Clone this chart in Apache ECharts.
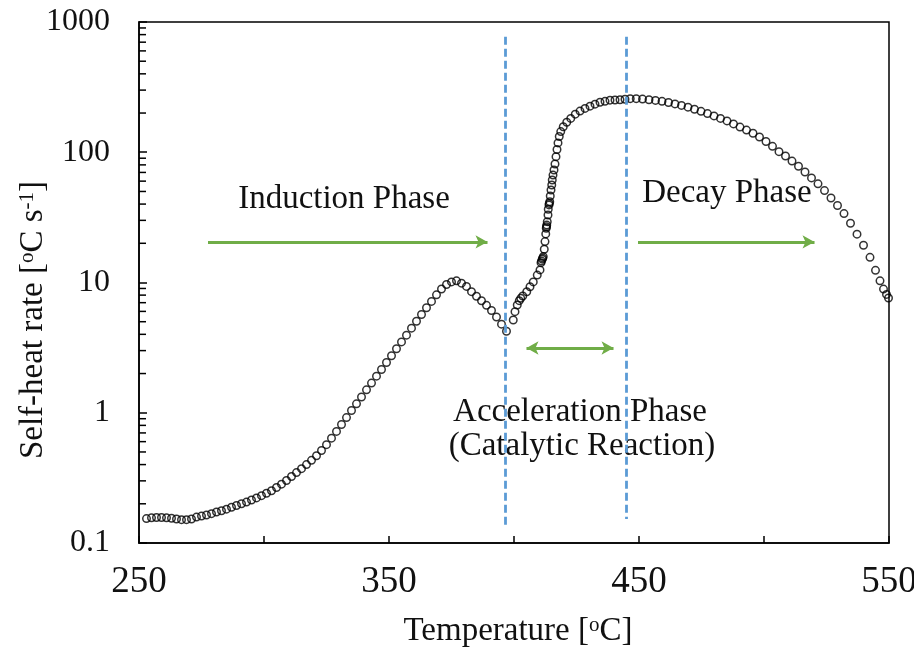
<!DOCTYPE html>
<html>
<head>
<meta charset="utf-8">
<script src="https://cdn.jsdelivr.net/npm/echarts@6/dist/echarts.min.js"></script>
<style>
  html, body { margin: 0; padding: 0; background: #fff; }
  #chart { width: 914px; height: 651px; }
</style>
</head>
<body>
<div id="chart"></div>
<script>
// Self-heat rate record: temperature [°C] and rate [°C/s]
const tempInduction = [253, 255, 257, 259, 261, 263, 265, 267, 269, 271, 273, 275, 277, 279, 281, 283, 285, 287, 289, 291,
  293, 295, 297, 299, 301, 303, 305, 307, 309, 311, 313, 315, 317, 319, 321, 323, 325, 327, 329, 331,
  333, 335, 337, 339, 341, 343, 345, 347, 349, 351, 353, 355, 357, 359, 361, 363, 365, 367, 369, 371,
  373, 375, 377, 379, 381, 383, 385, 387, 389, 391, 393, 395, 397];
const rateInduction = [0.154, 0.156, 0.157, 0.157, 0.156, 0.155, 0.153, 0.151, 0.151, 0.153, 0.158, 0.161, 0.164, 0.168, 0.173, 0.177, 0.182, 0.188, 0.194, 0.200,
  0.206, 0.214, 0.222, 0.231, 0.241, 0.252, 0.267, 0.283, 0.302, 0.324, 0.347, 0.372, 0.400, 0.431, 0.468, 0.513, 0.569, 0.638, 0.719, 0.813,
  0.918, 1.04, 1.17, 1.32, 1.50, 1.69, 1.91, 2.15, 2.43, 2.74, 3.10, 3.50, 3.94, 4.46, 5.04, 5.68, 6.40, 7.16, 8.04, 8.91,
  9.66, 10.1, 10.3, 9.89, 9.33, 8.51, 7.85, 7.24, 6.68, 6.10, 5.43, 4.79, 4.22];

const tempAcceleration = [399.7, 400.4, 401.3, 402.1, 402.7, 403.5, 405.1, 406.4, 407.7, 409.3, 410.4, 410.8, 411.0, 411.3, 411.5, 411.7,
  412.1, 412.4, 412.7, 412.9, 413.0, 413.1, 413.3, 413.6, 413.7, 414.0, 414.1, 414.3, 414.5, 414.8, 415.1, 415.3, 415.6, 416.0,
  416.4, 416.8, 417.2, 417.6, 418.1, 418.7, 419.7, 421.1, 422.7, 424.5, 426.4, 428.4, 430.4, 432.4, 434.4, 436.4, 438.4, 440.4, 442.4];
const rateAcceleration = [5.15, 5.97, 6.72, 7.25, 7.56, 7.87, 8.49, 9.28, 10.1, 11.4, 12.5, 14.2, 14.6, 15.1, 15.4, 15.8,
  18.0, 20.6, 23.6, 26.1, 26.8, 27.6, 29.3, 33.0, 36.5, 39.4, 40.5, 41.7, 46.1, 51.3, 56.1, 61.2, 66.8, 73.1,
  81.3, 92.5, 105, 118, 132, 144, 157, 170, 182, 196, 207, 217, 226, 234, 242, 246, 251, 252, 253];

const tempDecay = [444.4, 446.5, 448.9, 451.4, 454.0, 456.6, 459.2, 461.8, 464.4, 467.0, 469.6, 472.2, 474.8, 477.4, 480.0, 482.6,
  485.2, 487.8, 490.4, 493.0, 495.6, 498.2, 500.8, 503.4, 506.0, 508.6, 511.2, 513.8, 516.4, 519.0, 521.6, 524.2,
  526.8, 529.4, 532.0, 534.6, 537.2, 539.8, 542.4, 544.6, 546.4, 547.8, 549.0, 549.8];
const rateDecay = [255, 258, 258, 256, 253, 250, 246, 241, 235, 229, 222, 214, 206, 198, 190, 182,
  174, 165, 156, 148, 140, 131, 121, 111, 101, 93.5, 85.5, 78, 70.5, 63.5, 57.2, 50.8,
  44.5, 39.0, 33.8, 28.5, 23.5, 19.3, 15.6, 12.4, 10.3, 8.9, 8.1, 7.6];

// Axis ticks
const xLabelled = [250, 350, 450, 550];
const yDecades = [0.1, 1, 10, 100, 1000];
const yMinorTicks = [0.2, 0.3, 0.4, 0.5, 0.6, 0.7, 0.8, 0.9, 2, 3, 4, 5, 6, 7, 8, 9,
  20, 30, 40, 50, 60, 70, 80, 90, 200, 300, 400, 500, 600, 700, 800, 900];

// Phase boundaries and arrows (data coordinates)
const phaseBoundaryTemp = [396.4, 444.8];
const phaseBoundaryTop = [770, 770];
const phaseBoundaryBottom = [0.133, 0.153];
const inductionArrow = [[277.6, 20.5], [389.4, 20.5]];
const decayArrow = [[449.6, 20.5], [520.2, 20.5]];
const accelerationArrow = [[405.0, 3.14], [439.8, 3.14]];

const FONT = "'Liberation Serif', 'Times New Roman', serif";
const INK = '#111';
const GREEN = '#70AD47';
const BLUE = '#5B9BD5';

const points = [];
[[tempInduction, rateInduction], [tempAcceleration, rateAcceleration], [tempDecay, rateDecay]].forEach(([t, r]) => {
  t.forEach((v, i) => points.push([v, r[i]]));
});

const chart = echarts.init(document.getElementById('chart'), null, { renderer: 'canvas' });

const greenStyle = { color: GREEN, width: 3, type: 'solid' };
const blueStyle = { color: BLUE, width: 2.8, type: [8, 4] };
const arrowLine = (pair, both) => [
  { coord: pair[0], symbol: both ? 'arrow' : 'none', symbolSize: [10, 12], lineStyle: greenStyle },
  { coord: pair[1], symbol: 'arrow', symbolSize: [10, 12] }
];
const boundaryLine = i => [
  { coord: [phaseBoundaryTemp[i], phaseBoundaryTop[i]], symbol: 'none', lineStyle: blueStyle },
  { coord: [phaseBoundaryTemp[i], phaseBoundaryBottom[i]], symbol: 'none' }
];
const txt = (x, y, text) => ({
  type: 'text', x, y,
  style: { text, font: '33px ' + FONT, fill: INK, align: 'center', verticalAlign: 'middle' }
});

chart.setOption({
  animation: false,
  backgroundColor: '#fff',
  grid: {
    left: 139, right: 25, top: 22, bottom: 108,
    containLabel: false, outerBoundsMode: 'none',
    show: true, borderColor: '#000', borderWidth: 1.5, backgroundColor: 'transparent'
  },
  xAxis: {
    type: 'value', min: 250, max: 550, interval: 50,
    axisLine: { show: true, lineStyle: { color: '#000', width: 1.5 } },
    axisTick: { show: true, inside: true, length: 7, lineStyle: { color: '#000', width: 1.5 } },
    splitLine: { show: false },
    axisLabel: {
      margin: 21, color: INK, fontFamily: FONT, fontSize: 37,
      showMinLabel: true, showMaxLabel: true, hideOverlap: false,
      formatter: v => (xLabelled.indexOf(v) >= 0 ? String(v) : '')
    }
  },
  yAxis: {
    type: 'log', logBase: 10, min: yDecades[0], max: yDecades[yDecades.length - 1],
    axisLine: { show: true, lineStyle: { color: '#000', width: 1.5 } },
    axisTick: { show: true, inside: true, length: 8, lineStyle: { color: '#000', width: 1.5 } },
    splitLine: { show: false },
    axisLabel: {
      margin: 29, color: INK, fontFamily: FONT, fontSize: 32,
      formatter: v => String(+v.toPrecision(3))
    }
  },
  series: [
    {
      // minor log ticks along the left axis
      type: 'custom',
      silent: true,
      data: yMinorTicks.map(v => [250, v]),
      renderItem: (params, api) => {
        const p = api.coord([api.value(0), api.value(1)]);
        return {
          type: 'line',
          shape: { x1: p[0], y1: p[1], x2: p[0] + 7, y2: p[1] },
          style: { stroke: '#000', lineWidth: 1.5 }
        };
      },
      z: 3
    },
    {
      type: 'scatter',
      data: points,
      symbol: 'circle',
      symbolSize: 7.5,
      itemStyle: { color: 'rgba(0,0,0,0)', borderColor: '#000', borderWidth: 1.5 },
      z: 4
    },
    {
      // phase boundaries and phase arrows
      type: 'scatter',
      data: [],
      silent: true,
      markLine: {
        silent: true,
        animation: false,
        label: { show: false },
        emphasis: { disabled: true },
        data: [
          boundaryLine(0),
          boundaryLine(1),
          arrowLine(inductionArrow, false),
          arrowLine(decayArrow, false),
          arrowLine(accelerationArrow, true)
        ]
      },
      z: 2
    }
  ],
  graphic: [
    {
      type: 'text', x: 33, y: 320, rotation: Math.PI / 2,
      style: {
        text: 'Self-heat rate [{sup|o}C s{sup|-1}]',
        font: '33px ' + FONT, fill: INK, align: 'center', verticalAlign: 'middle',
        rich: { sup: { fontSize: 21, fontFamily: FONT, fill: INK, verticalAlign: 'top' } }
      }
    },
    {
      type: 'text', x: 518, y: 631,
      style: {
        text: 'Temperature [{sup|o}C]',
        font: '33px ' + FONT, fill: INK, align: 'center', verticalAlign: 'middle',
        rich: { sup: { fontSize: 21, fontFamily: FONT, fill: INK, verticalAlign: 'top' } }
      }
    },
    txt(344, 199, 'Induction Phase'),
    txt(727, 193, 'Decay Phase'),
    txt(580, 412, 'Acceleration Phase'),
    txt(582, 446, '(Catalytic Reaction)')
  ]
});
</script>
</body>
</html>
